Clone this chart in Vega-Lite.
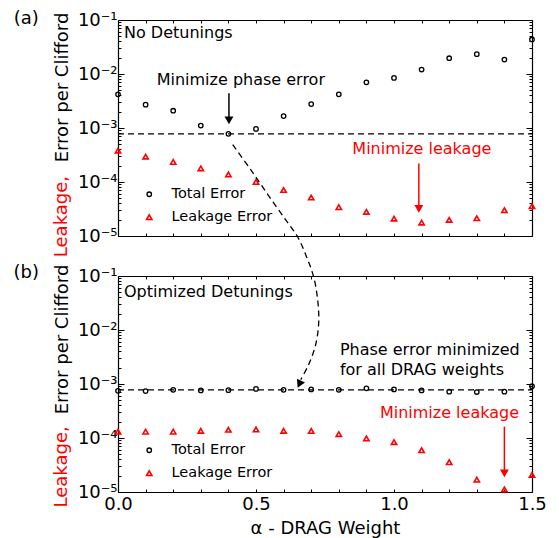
{
  "$schema": "https://vega.github.io/schema/vega-lite/v6.json",
  "padding": {"left": 13, "top": 9, "right": 5, "bottom": 5},
  "config": {"font": "DejaVu Sans", "view": {"stroke": null}, "axis": {"grid": false}},
  "datasets": {
    "a_pts": [
      {"alpha": 0.0, "err": 0.0042, "series": "Total Error"},
      {"alpha": 0.1, "err": 0.0027, "series": "Total Error"},
      {"alpha": 0.2, "err": 0.00209, "series": "Total Error"},
      {"alpha": 0.3, "err": 0.00111, "series": "Total Error"},
      {"alpha": 0.4, "err": 0.00078, "series": "Total Error"},
      {"alpha": 0.5, "err": 0.00096, "series": "Total Error"},
      {"alpha": 0.6, "err": 0.00166, "series": "Total Error"},
      {"alpha": 0.7, "err": 0.00277, "series": "Total Error"},
      {"alpha": 0.8, "err": 0.0042, "series": "Total Error"},
      {"alpha": 0.9, "err": 0.007, "series": "Total Error"},
      {"alpha": 1.0, "err": 0.00845, "series": "Total Error"},
      {"alpha": 1.1, "err": 0.0121, "series": "Total Error"},
      {"alpha": 1.2, "err": 0.0196, "series": "Total Error"},
      {"alpha": 1.3, "err": 0.0233, "series": "Total Error"},
      {"alpha": 1.4, "err": 0.0185, "series": "Total Error"},
      {"alpha": 1.5, "err": 0.0436, "series": "Total Error"},
      {"alpha": 0.0, "err": 0.000381, "series": "Leakage Error"},
      {"alpha": 0.1, "err": 0.000295, "series": "Leakage Error"},
      {"alpha": 0.2, "err": 0.000235, "series": "Leakage Error"},
      {"alpha": 0.3, "err": 0.000179, "series": "Leakage Error"},
      {"alpha": 0.4, "err": 0.000138, "series": "Leakage Error"},
      {"alpha": 0.5, "err": 0.0001, "series": "Leakage Error"},
      {"alpha": 0.6, "err": 0.000071, "series": "Leakage Error"},
      {"alpha": 0.7, "err": 0.0000516, "series": "Leakage Error"},
      {"alpha": 0.8, "err": 0.0000342, "series": "Leakage Error"},
      {"alpha": 0.9, "err": 0.000028, "series": "Leakage Error"},
      {"alpha": 1.0, "err": 0.000021, "series": "Leakage Error"},
      {"alpha": 1.1, "err": 0.0000177, "series": "Leakage Error"},
      {"alpha": 1.2, "err": 0.0000199, "series": "Leakage Error"},
      {"alpha": 1.3, "err": 0.0000213, "series": "Leakage Error"},
      {"alpha": 1.4, "err": 0.00003, "series": "Leakage Error"},
      {"alpha": 1.5, "err": 0.0000356, "series": "Leakage Error"}
    ],
    "b_pts": [
      {"alpha": 0.0, "err": 0.000746, "series": "Total Error"},
      {"alpha": 0.1, "err": 0.00074, "series": "Total Error"},
      {"alpha": 0.2, "err": 0.00078, "series": "Total Error"},
      {"alpha": 0.3, "err": 0.00076, "series": "Total Error"},
      {"alpha": 0.4, "err": 0.00077, "series": "Total Error"},
      {"alpha": 0.5, "err": 0.00081, "series": "Total Error"},
      {"alpha": 0.6, "err": 0.00078, "series": "Total Error"},
      {"alpha": 0.7, "err": 0.000795, "series": "Total Error"},
      {"alpha": 0.8, "err": 0.00078, "series": "Total Error"},
      {"alpha": 0.9, "err": 0.00083, "series": "Total Error"},
      {"alpha": 1.0, "err": 0.000795, "series": "Total Error"},
      {"alpha": 1.1, "err": 0.00076, "series": "Total Error"},
      {"alpha": 1.2, "err": 0.00072, "series": "Total Error"},
      {"alpha": 1.3, "err": 0.00071, "series": "Total Error"},
      {"alpha": 1.4, "err": 0.00072, "series": "Total Error"},
      {"alpha": 1.5, "err": 0.00091, "series": "Total Error"},
      {"alpha": 0.0, "err": 0.000131, "series": "Leakage Error"},
      {"alpha": 0.1, "err": 0.000131, "series": "Leakage Error"},
      {"alpha": 0.2, "err": 0.000131, "series": "Leakage Error"},
      {"alpha": 0.3, "err": 0.000136, "series": "Leakage Error"},
      {"alpha": 0.4, "err": 0.000142, "series": "Leakage Error"},
      {"alpha": 0.5, "err": 0.000144, "series": "Leakage Error"},
      {"alpha": 0.6, "err": 0.000136, "series": "Leakage Error"},
      {"alpha": 0.7, "err": 0.000135, "series": "Leakage Error"},
      {"alpha": 0.8, "err": 0.000118, "series": "Leakage Error"},
      {"alpha": 0.9, "err": 0.000098, "series": "Leakage Error"},
      {"alpha": 1.0, "err": 0.000084, "series": "Leakage Error"},
      {"alpha": 1.1, "err": 0.0000594, "series": "Leakage Error"},
      {"alpha": 1.2, "err": 0.0000356, "series": "Leakage Error"},
      {"alpha": 1.3, "err": 0.0000169, "series": "Leakage Error"},
      {"alpha": 1.4, "err": 0.0000112, "series": "Leakage Error"},
      {"alpha": 1.5, "err": 0.0000207, "series": "Leakage Error"}
    ],
    "level": [{"from": 0, "to": 1.5, "err": 0.00078}],
    "a_black_arrow": [{"alpha": 0.402, "from": 0.00438, "to": 0.00157, "tip": 0.00138}],
    "a_red_arrow": [{"alpha": 1.09, "from": 0.000221, "to": 0.0000361, "tip": 0.0000318}],
    "b_red_arrow": [{"alpha": 1.4, "from": 0.000162, "to": 0.0000256, "tip": 0.0000221}],
    "curve": [
      {"i": 0, "alpha": 0.4156, "err": 4.93e-4},
      {"i": 1, "alpha": 0.4808, "err": 1.69e-4},
      {"i": 2, "alpha": 0.546, "err": 5.55e-5},
      {"i": 3, "alpha": 0.6076, "err": 1.99e-5},
      {"i": 4, "alpha": 0.6511, "err": 9.58e-6},
      {"i": 5, "alpha": 0.6837, "err": 4.06e-6},
      {"i": 6, "alpha": 0.7091, "err": 1.73e-6},
      {"i": 7, "alpha": 0.7236, "err": 6.44e-7},
      {"i": 8, "alpha": 0.7272, "err": 2.51e-7},
      {"i": 9, "alpha": 0.7163, "err": 9.79e-8},
      {"i": 10, "alpha": 0.6909, "err": 4.16e-8},
      {"i": 11, "alpha": 0.662, "err": 2.19e-8}
    ],
    "curve_head": [{"alpha": 0.657, "err": 1.8e-8}],
    "a_text_black": [
      {"alpha": 0.0217, "err": 0.0457, "label": "No Detunings"},
      {"alpha": 0.1402, "err": 0.00637, "label": "Minimize phase error"}
    ],
    "a_text_red": [{"alpha": 0.849, "err": 0.000326, "label": "Minimize leakage"}],
    "b_text_black": [
      {"alpha": 0.0217, "err": 0.0412, "label": "Optimized Detunings"},
      {"alpha": 0.804, "err": 0.00339, "label": "Phase error minimized"},
      {"alpha": 0.804, "err": 0.00144, "label": "for all DRAG weights"}
    ],
    "b_text_red": [{"alpha": 0.949, "err": 0.000235, "label": "Minimize leakage"}],
    "a_tag": [{"alpha": -0.3326, "err": 0.1057, "label": "(a)"}],
    "b_tag": [{"alpha": -0.3326, "err": 0.115, "label": "(b)"}],
    "a_leak": [{"alpha": -0.1833, "err": 0.0000229, "label": "Leakage,"}],
    "b_leak": [{"alpha": -0.1833, "err": 0.0000292, "label": "Leakage,"}]
  },
  "vconcat": [
    {
      "width": 414,
      "height": 216,
      "resolve": {"axis": {"x": "independent", "y": "independent"}},
      "layer": [
        {
          "data": {"name": "a_pts"},
          "mark": {"type": "point", "filled": false, "opacity": 1},
          "encoding": {
            "x": {"field": "alpha", "type": "quantitative", "scale": {"domain": [0, 1.5], "nice": false, "zero": false},
              "axis": {"orient": "bottom", "values": [0,0.1,0.2,0.3,0.4,0.5,0.6,0.7,0.8,0.9,1.0,1.1,1.2,1.3,1.4,1.5], "labels": false, "title": null, "tickSize": -3, "tickColor": "#000", "domainColor": "#000", "domainWidth": 1.2}},
            "y": {"field": "err", "type": "quantitative", "scale": {"type": "log", "domain": [0.00001, 0.1], "nice": false},
              "axis": {"orient": "left",
                "values": [0.00001,0.00002,0.00003,0.00004,0.00005,0.00006,0.00007,0.00008,0.00009,0.0001,0.0002,0.0003,0.0004,0.0005,0.0006,0.0007,0.0008,0.0009,0.001,0.002,0.003,0.004,0.005,0.006,0.007,0.008,0.009,0.01,0.02,0.03,0.04,0.05,0.06,0.07,0.08,0.09,0.1],
                "labelExpr": "abs(log(datum.value)/LN10 - round(log(datum.value)/LN10)) < 0.001 ? '10' + (round(log(datum.value)/LN10) == -1 ? '⁻¹' : round(log(datum.value)/LN10) == -2 ? '⁻²' : round(log(datum.value)/LN10) == -3 ? '⁻³' : round(log(datum.value)/LN10) == -4 ? '⁻⁴' : '⁻⁵') : ''",
                "labelOverlap": false, "labelFontSize": 18, "labelColor": "#000", "labelPadding": 7, "labelBaseline": "middle",
                "tickSize": {"condition": {"test": "abs(log(datum.value)/LN10 - round(log(datum.value)/LN10)) < 0.001", "value": -6}, "value": -3},
                "tickColor": "#000", "domainColor": "#000", "domainWidth": 1.2,
                "title": "Error per Clifford", "titleFontSize": 18, "titleFontWeight": "normal", "titleColor": "#000",
                "titleAngle": 270, "titleAlign": "center", "titleBaseline": "alphabetic", "titleX": -50.6, "titleY": 67}},
            "color": {"field": "series", "type": "nominal", "scale": {"domain": ["Total Error", "Leakage Error"], "range": ["#000000", "#ff0000"]},
              "legend": {"orient": "none", "legendX": 24, "legendY": 167, "title": null, "labelFontSize": 14.5, "labelColor": "#000", "labelOffset": 15, "rowPadding": 8, "symbolSize": 30, "symbolStrokeWidth": 1.5, "symbolOpacity": 1, "padding": 0}},
            "shape": {"field": "series", "type": "nominal", "scale": {"domain": ["Total Error", "Leakage Error"], "range": ["circle", "triangle-up"]},
              "legend": {"orient": "none", "legendX": 24, "legendY": 167, "title": null, "labelFontSize": 14.5, "labelColor": "#000", "labelOffset": 15, "rowPadding": 8, "symbolSize": 30, "symbolStrokeWidth": 1.5, "symbolOpacity": 1, "padding": 0}},
            "size": {"field": "series", "type": "ordinal", "scale": {"domain": ["Total Error", "Leakage Error"], "range": [20, 28]}, "legend": null},
            "strokeWidth": {"field": "series", "type": "ordinal", "scale": {"domain": ["Total Error", "Leakage Error"], "range": [1.3, 1.6]}, "legend": null}
          }
        },
        {
          "data": {"name": "level"},
          "mark": {"type": "rule", "strokeDash": [6, 4], "strokeWidth": 1.3, "color": "#000"},
          "encoding": {
            "x": {"field": "from", "type": "quantitative", "scale": {"domain": [0, 1.5], "nice": false, "zero": false},
              "axis": {"orient": "top", "values": [0,0.1,0.2,0.3,0.4,0.5,0.6,0.7,0.8,0.9,1.0,1.1,1.2,1.3,1.4,1.5], "labels": false, "title": null, "tickSize": -3, "tickColor": "#000", "domainColor": "#000", "domainWidth": 1.2}},
            "x2": {"field": "to"},
            "y": {"field": "err", "type": "quantitative", "scale": {"type": "log", "domain": [0.00001, 0.1], "nice": false},
              "axis": {"orient": "right",
                "values": [0.00001,0.00002,0.00003,0.00004,0.00005,0.00006,0.00007,0.00008,0.00009,0.0001,0.0002,0.0003,0.0004,0.0005,0.0006,0.0007,0.0008,0.0009,0.001,0.002,0.003,0.004,0.005,0.006,0.007,0.008,0.009,0.01,0.02,0.03,0.04,0.05,0.06,0.07,0.08,0.09,0.1],
                "labels": false, "title": null,
                "tickSize": {"condition": {"test": "abs(log(datum.value)/LN10 - round(log(datum.value)/LN10)) < 0.001", "value": -6}, "value": -3},
                "tickColor": "#000", "domainColor": "#000", "domainWidth": 1.2}}
          }
        },
        {
          "data": {"name": "a_black_arrow"},
          "mark": {"type": "rule", "color": "#000", "strokeWidth": 1.5},
          "encoding": {
            "x": {"field": "alpha", "type": "quantitative", "axis": null},
            "y": {"field": "from", "type": "quantitative", "axis": null},
            "y2": {"field": "to"}
          }
        },
        {
          "data": {"name": "a_black_arrow"},
          "mark": {"type": "point", "shape": "triangle-down", "filled": true, "size": 80, "color": "#000", "opacity": 1},
          "encoding": {
            "x": {"field": "alpha", "type": "quantitative", "axis": null},
            "y": {"field": "tip", "type": "quantitative", "axis": null}
          }
        },
        {
          "data": {"name": "a_red_arrow"},
          "mark": {"type": "rule", "color": "#ff0000", "strokeWidth": 1.5},
          "encoding": {
            "x": {"field": "alpha", "type": "quantitative", "axis": null},
            "y": {"field": "from", "type": "quantitative", "axis": null},
            "y2": {"field": "to"}
          }
        },
        {
          "data": {"name": "a_red_arrow"},
          "mark": {"type": "point", "shape": "triangle-down", "filled": true, "size": 80, "color": "#ff0000", "opacity": 1},
          "encoding": {
            "x": {"field": "alpha", "type": "quantitative", "axis": null},
            "y": {"field": "tip", "type": "quantitative", "axis": null}
          }
        },
        {
          "data": {"name": "curve"},
          "mark": {"type": "line", "interpolate": "catmull-rom", "strokeDash": [6, 4], "strokeWidth": 1.3, "color": "#000", "clip": false},
          "encoding": {
            "x": {"field": "alpha", "type": "quantitative", "axis": null},
            "y": {"field": "err", "type": "quantitative", "axis": null},
            "order": {"field": "i", "type": "quantitative"}
          }
        },
        {
          "data": {"name": "curve_head"},
          "mark": {"type": "point", "shape": "triangle-down", "filled": true, "size": 80, "color": "#000", "opacity": 1, "angle": 25},
          "encoding": {
            "x": {"field": "alpha", "type": "quantitative", "axis": null},
            "y": {"field": "err", "type": "quantitative", "axis": null}
          }
        },
        {
          "data": {"name": "a_text_black"},
          "mark": {"type": "text", "align": "left", "baseline": "alphabetic", "fontSize": 16, "color": "#000"},
          "encoding": {
            "x": {"field": "alpha", "type": "quantitative", "axis": null},
            "y": {"field": "err", "type": "quantitative", "axis": null},
            "text": {"field": "label"}
          }
        },
        {
          "data": {"name": "a_text_red"},
          "mark": {"type": "text", "align": "left", "baseline": "alphabetic", "fontSize": 16, "color": "#ff0000"},
          "encoding": {
            "x": {"field": "alpha", "type": "quantitative", "axis": null},
            "y": {"field": "err", "type": "quantitative", "axis": null},
            "text": {"field": "label"}
          }
        },
        {
          "data": {"name": "a_tag"},
          "mark": {"type": "text", "align": "center", "baseline": "middle", "fontSize": 18, "color": "#000"},
          "encoding": {
            "x": {"field": "alpha", "type": "quantitative", "axis": null},
            "y": {"field": "err", "type": "quantitative", "axis": null},
            "text": {"field": "label"}
          }
        },
        {
          "data": {"name": "a_leak"},
          "mark": {"type": "text", "align": "center", "baseline": "alphabetic", "fontSize": 18, "color": "#ff0000", "angle": 270},
          "encoding": {
            "x": {"field": "alpha", "type": "quantitative", "axis": null},
            "y": {"field": "err", "type": "quantitative", "axis": null},
            "text": {"field": "label"}
          }
        }
      ]
    },
    {
      "width": 414,
      "height": 216,
      "resolve": {"axis": {"x": "independent", "y": "independent"}},
      "layer": [
        {
          "data": {"name": "b_pts"},
          "mark": {"type": "point", "filled": false, "opacity": 1},
          "encoding": {
            "x": {"field": "alpha", "type": "quantitative", "scale": {"domain": [0, 1.5], "nice": false, "zero": false},
              "axis": {"orient": "bottom", "values": [0,0.1,0.2,0.3,0.4,0.5,0.6,0.7,0.8,0.9,1.0,1.1,1.2,1.3,1.4,1.5],
                "labelExpr": "abs(datum.value*2 - round(datum.value*2)) < 0.001 ? format(datum.value, '.1f') : ''",
                "labelOverlap": false, "labelFontSize": 18, "labelColor": "#000", "labelPadding": 6, "labelFlush": false,
                "tickSize": -3, "tickColor": "#000", "domainColor": "#000", "domainWidth": 1.2,
                "title": "α - DRAG Weight", "titleFontSize": 18, "titleFontWeight": "normal", "titleColor": "#000", "titlePadding": 6}},
            "y": {"field": "err", "type": "quantitative", "scale": {"type": "log", "domain": [0.00001, 0.1], "nice": false},
              "axis": {"orient": "left",
                "values": [0.00001,0.00002,0.00003,0.00004,0.00005,0.00006,0.00007,0.00008,0.00009,0.0001,0.0002,0.0003,0.0004,0.0005,0.0006,0.0007,0.0008,0.0009,0.001,0.002,0.003,0.004,0.005,0.006,0.007,0.008,0.009,0.01,0.02,0.03,0.04,0.05,0.06,0.07,0.08,0.09,0.1],
                "labelExpr": "abs(log(datum.value)/LN10 - round(log(datum.value)/LN10)) < 0.001 ? '10' + (round(log(datum.value)/LN10) == -1 ? '⁻¹' : round(log(datum.value)/LN10) == -2 ? '⁻²' : round(log(datum.value)/LN10) == -3 ? '⁻³' : round(log(datum.value)/LN10) == -4 ? '⁻⁴' : '⁻⁵') : ''",
                "labelOverlap": false, "labelFontSize": 18, "labelColor": "#000", "labelPadding": 7, "labelBaseline": "middle",
                "tickSize": {"condition": {"test": "abs(log(datum.value)/LN10 - round(log(datum.value)/LN10)) < 0.001", "value": -6}, "value": -3},
                "tickColor": "#000", "domainColor": "#000", "domainWidth": 1.2,
                "title": "Error per Clifford", "titleFontSize": 18, "titleFontWeight": "normal", "titleColor": "#000",
                "titleAngle": 270, "titleAlign": "center", "titleBaseline": "alphabetic", "titleX": -50.6, "titleY": 63}},
            "color": {"field": "series", "type": "nominal", "scale": {"domain": ["Total Error", "Leakage Error"], "range": ["#000000", "#ff0000"]},
              "legend": {"orient": "none", "legendX": 24, "legendY": 167, "title": null, "labelFontSize": 14.5, "labelColor": "#000", "labelOffset": 15, "rowPadding": 8, "symbolSize": 30, "symbolStrokeWidth": 1.5, "symbolOpacity": 1, "padding": 0}},
            "shape": {"field": "series", "type": "nominal", "scale": {"domain": ["Total Error", "Leakage Error"], "range": ["circle", "triangle-up"]},
              "legend": {"orient": "none", "legendX": 24, "legendY": 167, "title": null, "labelFontSize": 14.5, "labelColor": "#000", "labelOffset": 15, "rowPadding": 8, "symbolSize": 30, "symbolStrokeWidth": 1.5, "symbolOpacity": 1, "padding": 0}},
            "size": {"field": "series", "type": "ordinal", "scale": {"domain": ["Total Error", "Leakage Error"], "range": [20, 28]}, "legend": null},
            "strokeWidth": {"field": "series", "type": "ordinal", "scale": {"domain": ["Total Error", "Leakage Error"], "range": [1.3, 1.6]}, "legend": null}
          }
        },
        {
          "data": {"name": "level"},
          "mark": {"type": "rule", "strokeDash": [6, 4], "strokeWidth": 1.3, "color": "#000"},
          "encoding": {
            "x": {"field": "from", "type": "quantitative", "scale": {"domain": [0, 1.5], "nice": false, "zero": false},
              "axis": {"orient": "top", "values": [0,0.1,0.2,0.3,0.4,0.5,0.6,0.7,0.8,0.9,1.0,1.1,1.2,1.3,1.4,1.5], "labels": false, "title": null, "tickSize": -3, "tickColor": "#000", "domainColor": "#000", "domainWidth": 1.2}},
            "x2": {"field": "to"},
            "y": {"field": "err", "type": "quantitative", "scale": {"type": "log", "domain": [0.00001, 0.1], "nice": false},
              "axis": {"orient": "right",
                "values": [0.00001,0.00002,0.00003,0.00004,0.00005,0.00006,0.00007,0.00008,0.00009,0.0001,0.0002,0.0003,0.0004,0.0005,0.0006,0.0007,0.0008,0.0009,0.001,0.002,0.003,0.004,0.005,0.006,0.007,0.008,0.009,0.01,0.02,0.03,0.04,0.05,0.06,0.07,0.08,0.09,0.1],
                "labels": false, "title": null,
                "tickSize": {"condition": {"test": "abs(log(datum.value)/LN10 - round(log(datum.value)/LN10)) < 0.001", "value": -6}, "value": -3},
                "tickColor": "#000", "domainColor": "#000", "domainWidth": 1.2}}
          }
        },
        {
          "data": {"name": "b_red_arrow"},
          "mark": {"type": "rule", "color": "#ff0000", "strokeWidth": 1.5},
          "encoding": {
            "x": {"field": "alpha", "type": "quantitative", "axis": null},
            "y": {"field": "from", "type": "quantitative", "axis": null},
            "y2": {"field": "to"}
          }
        },
        {
          "data": {"name": "b_red_arrow"},
          "mark": {"type": "point", "shape": "triangle-down", "filled": true, "size": 80, "color": "#ff0000", "opacity": 1},
          "encoding": {
            "x": {"field": "alpha", "type": "quantitative", "axis": null},
            "y": {"field": "tip", "type": "quantitative", "axis": null}
          }
        },
        {
          "data": {"name": "b_text_black"},
          "mark": {"type": "text", "align": "left", "baseline": "alphabetic", "fontSize": 16, "color": "#000"},
          "encoding": {
            "x": {"field": "alpha", "type": "quantitative", "axis": null},
            "y": {"field": "err", "type": "quantitative", "axis": null},
            "text": {"field": "label"}
          }
        },
        {
          "data": {"name": "b_text_red"},
          "mark": {"type": "text", "align": "left", "baseline": "alphabetic", "fontSize": 16, "color": "#ff0000"},
          "encoding": {
            "x": {"field": "alpha", "type": "quantitative", "axis": null},
            "y": {"field": "err", "type": "quantitative", "axis": null},
            "text": {"field": "label"}
          }
        },
        {
          "data": {"name": "b_tag"},
          "mark": {"type": "text", "align": "center", "baseline": "middle", "fontSize": 18, "color": "#000"},
          "encoding": {
            "x": {"field": "alpha", "type": "quantitative", "axis": null},
            "y": {"field": "err", "type": "quantitative", "axis": null},
            "text": {"field": "label"}
          }
        },
        {
          "data": {"name": "b_leak"},
          "mark": {"type": "text", "align": "center", "baseline": "alphabetic", "fontSize": 18, "color": "#ff0000", "angle": 270},
          "encoding": {
            "x": {"field": "alpha", "type": "quantitative", "axis": null},
            "y": {"field": "err", "type": "quantitative", "axis": null},
            "text": {"field": "label"}
          }
        }
      ]
    }
  ],
  "spacing": 40,
  "bounds": "flush",
  "resolve": {"scale": {"color": "independent", "shape": "independent", "size": "independent", "strokeWidth": "independent"}}
}
